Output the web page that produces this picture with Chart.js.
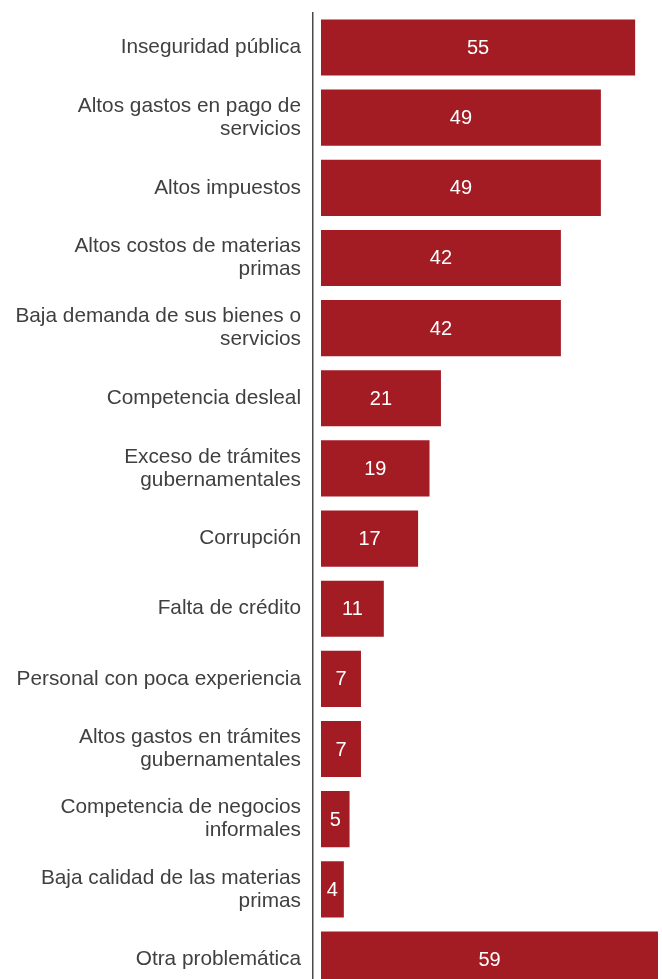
<!DOCTYPE html>
<html>
<head>
<meta charset="utf-8">
<script src="https://cdn.jsdelivr.net/npm/chart.js@4"></script>
<style>
  html, body { margin: 0; padding: 0; background: #fff; overflow: hidden; }
  canvas { display: block; margin-top: -11px; }
</style>
</head>
<body>
<canvas id="chart" width="662" height="1029"></canvas>
<script>
const categories = [
  'Inseguridad pública',
  ['Altos gastos en pago de', 'servicios'],
  'Altos impuestos',
  ['Altos costos de materias', 'primas'],
  ['Baja demanda de sus bienes o', 'servicios'],
  'Competencia desleal',
  ['Exceso de trámites', 'gubernamentales'],
  'Corrupción',
  'Falta de crédito',
  'Personal con poca experiencia',
  ['Altos gastos en trámites', 'gubernamentales'],
  ['Competencia de negocios', 'informales'],
  ['Baja calidad de las materias', 'primas'],
  'Otra problemática'
];
const values = [55, 49, 49, 42, 42, 21, 19, 17, 11, 7, 7, 5, 4, 59];

const barColor = '#a31c24';
const fontFamily = '"Liberation Sans", Arial, sans-serif';

// draw the value inside each bar
const valueLabels = {
  id: 'valueLabels',
  afterDatasetsDraw(chart) {
    const ctx = chart.ctx;
    const meta = chart.getDatasetMeta(0);
    ctx.save();
    ctx.fillStyle = '#ffffff';
    ctx.font = '20px ' + fontFamily;
    ctx.textAlign = 'center';
    ctx.textBaseline = 'middle';
    meta.data.forEach((bar, i) => {
      const cx = (bar.base + bar.x) / 2;
      ctx.fillText(String(values[i]), cx, bar.y + 1);
    });
    ctx.restore();
  }
};

new Chart(document.getElementById('chart'), {
  type: 'bar',
  data: {
    labels: categories,
    datasets: [{
      data: values,
      backgroundColor: barColor,
      borderWidth: 0,
      barPercentage: 0.8,
      categoryPercentage: 1
    }]
  },
  options: {
    indexAxis: 'y',
    responsive: false,
    animation: false,
    layout: { padding: { top: 0, right: 4, bottom: 0, left: 0 } },
    plugins: {
      legend: { display: false },
      tooltip: { enabled: false }
    },
    scales: {
      x: {
        display: false,
        min: -1.4,
        max: 59
      },
      y: {
        grid: { display: false, drawTicks: false },
        border: { display: true, color: '#4a4a4a', width: 1.5 },
        afterFit: scale => { scale.width = 313; },
        ticks: {
          color: '#404040',
          padding: 12,
          font: { family: fontFamily, size: 20.8, lineHeight: 1.1 }
        }
      }
    }
  },
  plugins: [valueLabels]
});
</script>
</body>
</html>
